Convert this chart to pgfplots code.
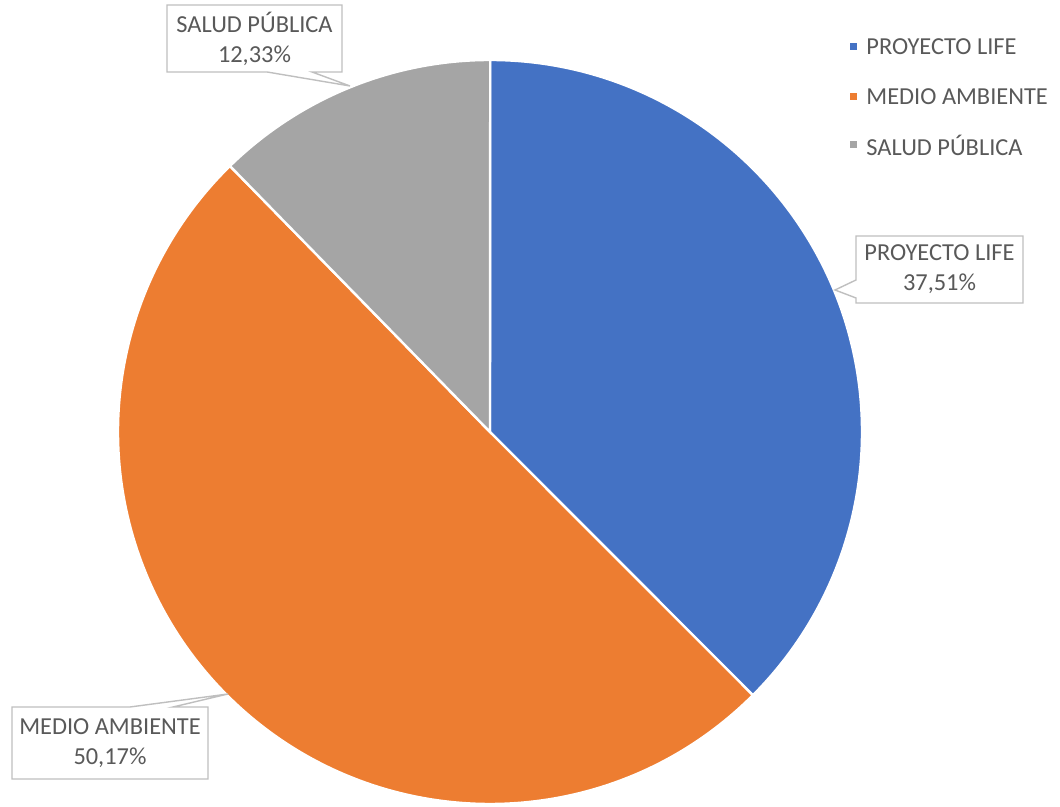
\documentclass[border=0pt]{standalone}
\usepackage{pgfplots}
\pgfplotsset{compat=1.18}
\usepackage{fontspec}
\setmainfont{Carlito}
\definecolor{cblue}{HTML}{4472C4}
\definecolor{corange}{HTML}{ED7D31}
\definecolor{cgray}{HTML}{A5A5A5}
\definecolor{ctext}{HTML}{595959}
\definecolor{cbox}{HTML}{BFBFBF}
% data (percent)
\def\vA{37.51}% PROYECTO LIFE
\def\vB{50.17}% MEDIO AMBIENTE
\def\vC{12.33}% SALUD PUBLICA
\pgfmathsetmacro\aA{90}
\pgfmathsetmacro\aB{\aA-3.6*\vA}
\pgfmathsetmacro\aC{\aB-3.6*\vB}
\pgfmathsetmacro\aD{\aC-3.6*\vC}
\tikzset{lbl/.style={font=\fontsize{12.2}{15}\selectfont,text=ctext,inner sep=0pt}}
\begin{document}
\begin{tikzpicture}
\begin{axis}[x=0.5pt,y=0.5pt,xmin=0,xmax=1060,ymin=0,ymax=807,
  hide axis,clip=false]
\coordinate (LL) at (axis cs:0,0);
\coordinate (UR) at (axis cs:1060,807);
% wedges
\fill[cblue,draw=white,line width=1.2pt] (axis cs:490,375) -- ++(\aA:186pt) arc[start angle=\aA,end angle=\aB,radius=186pt] -- cycle;
\fill[corange,draw=white,line width=1.2pt] (axis cs:490,375) -- ++(\aB:186pt) arc[start angle=\aB,end angle=\aC,radius=186pt] -- cycle;
\fill[cgray,draw=white,line width=1.2pt] (axis cs:490,375) -- ++(\aC:186pt) arc[start angle=\aC,end angle=\aD,radius=186pt] -- cycle;
% callouts
\filldraw[fill=white,draw=cbox,line width=0.7pt] (axis cs:167,802) -- (axis cs:342,802) -- (axis cs:342,735) -- (axis cs:312,735) -- (axis cs:350,721) -- (axis cs:267,735) -- (axis cs:167,735) -- cycle;
\node[lbl,align=center] at (axis cs:254.5,768.5) {SALUD PÚBLICA\\12,33\%};
\filldraw[fill=white,draw=cbox,line width=0.7pt] (axis cs:856,571) -- (axis cs:1023,571) -- (axis cs:1023,504) -- (axis cs:856,504) -- (axis cs:856,509) -- (axis cs:835,517) -- (axis cs:856,527) -- cycle;
\node[lbl,align=center] at (axis cs:939.5,537.5) {PROYECTO LIFE\\37,51\%};
\filldraw[fill=white,draw=cbox,line width=0.7pt] (axis cs:12,100) -- (axis cs:130,100) -- (axis cs:228,113) -- (axis cs:173,100) -- (axis cs:208,100) -- (axis cs:208,28) -- (axis cs:12,28) -- cycle;
\node[lbl,align=center] at (axis cs:110,64) {MEDIO AMBIENTE\\50,17\%};
% legend
\fill[cblue] (axis cs:850,756.5) rectangle (axis cs:857,763.5);
\node[lbl,anchor=west] at (axis cs:866,760) {PROYECTO LIFE};
\fill[corange] (axis cs:850,706.5) rectangle (axis cs:857,713.5);
\node[lbl,anchor=west] at (axis cs:866,710) {MEDIO AMBIENTE};
\fill[cgray] (axis cs:850,658.5) rectangle (axis cs:857,665.5);
\node[lbl,anchor=west] at (axis cs:866,662) {SALUD PÚBLICA};
\end{axis}
\pgfresetboundingbox
\path (LL) rectangle (UR);
\end{tikzpicture}
\end{document}
